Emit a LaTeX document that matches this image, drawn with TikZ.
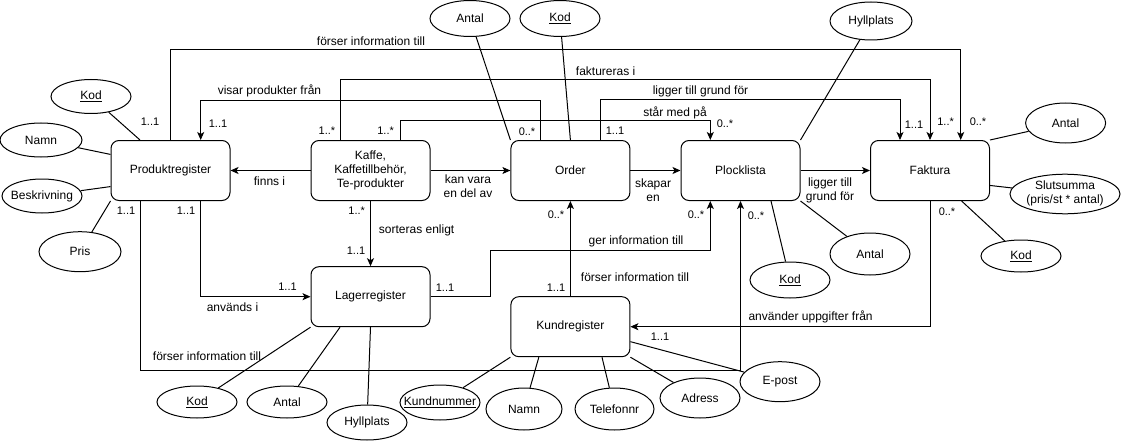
\documentclass[tikz,border=0pt]{standalone}
\usepackage{fontspec}
\setmainfont{Liberation Sans}
\usetikzlibrary{arrows.meta,calc,shapes.geometric}
\newcommand{\zb}[1]{\makebox[0pt]{#1}}
\begin{document}
\begin{tikzpicture}[x=1pt,y=-1pt,
  every node/.style={font=\fontsize{12}{14}\selectfont},
  box/.style={draw,rounded corners=8pt,minimum width=119pt,minimum height=60pt,inner sep=0pt,align=center,line width=1pt},
  attr/.style={draw,ellipse,inner sep=0pt,line width=1pt},
  arr/.style={-{Stealth[length=8pt,width=7pt,inset=2pt]},line width=1pt},
  ln/.style={line width=1pt},
  lbl/.style={inner sep=0pt,align=center},
  card/.style={inner sep=0pt,font=\fontsize{11}{13}\selectfont}]
\fill[white] (0,0) rectangle (1121,441);
\useasboundingbox (0,0) rectangle (1121,441);

% entity boxes
\node[box] (prod)  at (170.5,170.5) {Produktregister};
\node[box] (kaffe) at (370.5,170.5) {Kaffe,\\Kaffetillbehör,\\Te-produkter};
\node[box] (order) at (570.4,170.5) {Order};
\node[box] (plock) at (740.5,170.5) {Plocklista};
\node[box] (fakt)  at (930,170.5) {Faktura};
\node[box] (lager) at (370.5,296.7) {Lagerregister};
\node[box] (kund)  at (570.4,326.7) {Kundregister};

% attributes
\node[attr,minimum width=80pt,minimum height=34pt] (pkod)  at (91,96.5) {\zb{\underline{Kod}}};
\node[attr,minimum width=82pt,minimum height=34pt] (pnamn) at (41,140) {\zb{Namn}};
\node[attr,minimum width=80pt,minimum height=34pt] (pbesk) at (42,196) {\zb{Beskrivning}};
\node[attr,minimum width=82pt,minimum height=40pt] (ppris) at (80,251.7) {\zb{Pris}};
\node[attr,minimum width=80pt,minimum height=36pt] (oantal) at (470,18.5) {\zb{Antal}};
\node[attr,minimum width=80pt,minimum height=36pt] (okod) at (560,18.5) {\zb{\underline{Kod}}};
\node[attr,minimum width=82pt,minimum height=38pt] (phyll) at (871,21) {\zb{Hyllplats}};
\node[attr,minimum width=80pt,minimum height=40pt] (fantal) at (1065.6,123) {\zb{Antal}};
\node[attr,minimum width=110pt,minimum height=38pt] (fsum) at (1065,194) {\zb{\begin{tabular}{@{}c@{}}Slutsumma\\(pris/st * antal)\end{tabular}}};
\node[attr,minimum width=80pt,minimum height=32pt] (fkod) at (1021,256) {\zb{\underline{Kod}}};
\node[attr,minimum width=80pt,minimum height=36pt] (plkod) at (790,280) {\zb{\underline{Kod}}};
\node[attr,minimum width=80pt,minimum height=42pt] (plantal) at (870,254) {\zb{Antal}};
\node[attr,minimum width=80pt,minimum height=32pt] (lkod) at (197,402) {\zb{\underline{Kod}}};
\node[attr,minimum width=80pt,minimum height=32pt] (lantal) at (287,402) {\zb{Antal}};
\node[attr,minimum width=80pt,minimum height=35pt] (lhyll) at (367,422.5) {\zb{Hyllplats}};
\node[attr,minimum width=80pt,minimum height=35pt] (knr) at (440,402.5) {\zb{\underline{Kundnummer}}};
\node[attr,minimum width=76pt,minimum height=42pt] (knamn) at (524,409) {\zb{Namn}};
\node[attr,minimum width=79pt,minimum height=42pt] (ktel) at (614.5,409) {\zb{Telefonnr}};
\node[attr,minimum width=80pt,minimum height=40pt] (kadr) at (700,398) {\zb{Adress}};
\node[attr,minimum width=80pt,minimum height=40pt] (kepost) at (780,381.7) {\zb{E-post}};

% attribute links
\coordinate (c1) at (140,370);
\draw[ln] (pkod) -- (prod.north -| c1);
\draw[ln] (pnamn) -- (prod.165);
\draw[ln] (pbesk) -- (prod.195);
\draw[ln] (ppris) -- (prod.south west);
\draw[ln] (oantal) -- (order.north west);
\draw[ln] (okod) -- (order.north);
\draw[ln] (phyll) -- (plock.north east);
\draw[ln] (fantal) -- (fakt.north east);
\draw[ln] (fsum) -- (fakt.346);
\draw[ln] (fkod) -- (fakt.-44);
\draw[ln] (plkod) -- (plock.-45);
\draw[ln] (plantal) -- (plock.south east);
\draw[ln] (lkod) -- (lager.south west);
\draw[ln] (lantal) -- (lager.225);
\draw[ln] (lhyll) -- (lager.south);
\draw[ln] (knr) -- (kund.south west);
\draw[ln] (knamn) -- (kund.224);
\draw[ln] (ktel) -- (kund.316);
\draw[ln] (kadr) -- (kund.south east);
\draw[ln] (kepost) -- (kund.346);

% helper coordinates
\coordinate (c2) at (490,250);
\coordinate (c3) at (960.7,50);
\coordinate (c4) at (540,100.7);
\coordinate (x200) at (200.7,0);
\coordinate (c5) at (340,80);
\coordinate (c6) at (400.6,120.7);
\coordinate (x710) at (710.3,0);
\coordinate (c7) at (600.4,100);
\coordinate (x900) at (900,0);

% relationships
\draw[arr] (kaffe.west) -- (prod.east);
\node[lbl] (l1) at (269.5,181) {finns i};

\draw[arr] (kaffe.east) -- (order.west);
\node[lbl] (l2) at (468,186) {kan vara\\en del av};

\draw[arr] (order.east) -- (plock.west);
\node[lbl] (l3) at (653,190) {skapar\\en};

\draw[arr] (plock.east) -- (fakt.west);
\node[lbl] (l4) at (830,190) {ligger till\\grund för};

\draw[arr] (kaffe.south) -- (lager.north);
\node[lbl] (l5) at (416.6,230.7) {sorteras enligt};
\node[card] (k5a) at (356.7,210.7) {1..*};
\node[card] (k5b) at (356,251) {1..1};

\draw[arr] (prod.south -| x200) |- (lager.west);
\node[lbl] (l6) at (232.5,307.3) {används i};
\node[card] (k6a) at (186,210.7) {1..1};
\node[card] (k6b) at (287.5,286.7) {1..1};

\draw[arr] (prod.south -| c1) -- (c1) -| (plock.south);
\node[lbl] (l7) at (207,356.7) {förser information till};
\node[card] (k7a) at (126,210.7) {1..1};
\node[card] (k7b) at (756,215.7) {0..*};

\draw[arr] (lager.east) -| (c2) -| (plock.south -| x710);
\node[lbl] (l8) at (636,241.7) {ger information till};
\node[card] (k8a) at (445,287.3) {1..1};
\node[card] (k8b) at (696,215) {0..*};

\draw[arr] (kund.north) -- (order.south);
\node[lbl] (l9) at (635,277.3) {förser information till};
\node[card] (k9a) at (556,287.7) {1..1};
\node[card] (k9b) at (556,215) {0..*};

\draw[arr] (fakt.south) |- (kund.east);
\node[lbl] (l10) at (810.6,316.7) {använder uppgifter från};
\node[card] (k10a) at (947,211.7) {0..*};
\node[card] (k10b) at (660,336.7) {1..1};

\draw[arr] (prod.north) |- (c3) -- (fakt.north -| c3);
\node[lbl] (l11) at (371,41.7) {förser information till};
\node[card] (k11a) at (150,122) {1..1};
\node[card] (k11b) at (978,122) {0..*};

\draw[arr] (order.north -| c4) -- (c4) -| (prod.north -| x200);
\node[lbl] (l12) at (269.5,90.7) {visar produkter från};
\node[card] (k12a) at (218,124) {1..1};
\node[card] (k12b) at (527,131.7) {0..*};

\draw[arr] (kaffe.north -| c5) -- (c5) -| (fakt.north);
\node[lbl] (l13) at (605.6,71.7) {faktureras i};
\node[card] (k13a) at (945.6,122) {1..*};
\node[card] (k13b) at (327,131) {1..*};

\draw[arr] (kaffe.north -| c6) -- (c6) -| (plock.north -| x710);
\node[lbl] (l14) at (675,113.3) {står med på};
\node[card] (k14a) at (725,124) {0..*};
\node[card] (k14b) at (385.6,131) {1..*};

\draw[arr] (order.north -| c7) -- (c7) -| (fakt.north -| x900);
\node[lbl] (l15) at (700.5,91) {ligger till grund för};
\node[card] (k15a) at (615,130.7) {1..1};
\node[card] (k15b) at (914,124.7) {1..1};
\end{tikzpicture}
\end{document}
